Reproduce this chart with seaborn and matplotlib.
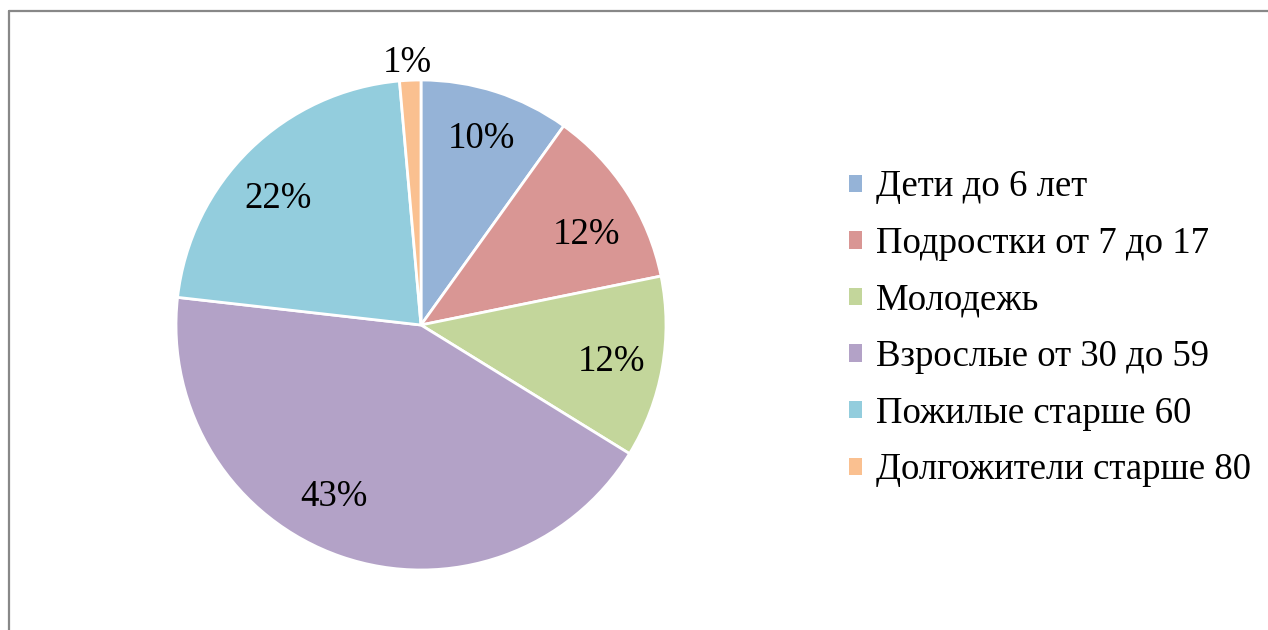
import matplotlib
matplotlib.use("Agg")
import numpy as np
import matplotlib.pyplot as plt
import seaborn as sns
from matplotlib.patches import Patch
from matplotlib.lines import Line2D

categories = ["Дети до 6 лет", "Подростки от 7 до 17", "Молодежь",
              "Взрослые от 30 до 59", "Пожилые старше 60", "Долгожители старше 80"]
values = [9.9, 11.9, 12.0, 43.0, 21.8, 1.4]
pct_labels = ["10%", "12%", "12%", "43%", "22%", "1%"]
colors_hex = ["#95B3D7", "#D99694", "#C3D69B", "#B3A2C7", "#93CDDD", "#FAC090"]

# label placement (radius fraction, angle in degrees) – styling only
label_polar = [(0.80, 72.0), (0.77, 28.5), (0.79, -10.8),
               (0.785, -117.0), (0.78, 138.5), (1.07, 93.0)]

sns.set_theme(style="white")
plt.rcParams["font.family"] = ["Liberation Serif", "DejaVu Serif"]
palette = sns.color_palette(colors_hex)

W, H = 1268, 630
fig = plt.figure(figsize=(W / 100, H / 100), dpi=100)
fig.patch.set_facecolor("white")

cx, cy, R = 421, 325, 245
half = 300
ax = fig.add_axes([(cx - half) / W, (H - cy - half) / H, 2 * half / W, 2 * half / H])
wedges, texts = ax.pie(values, colors=palette, startangle=90, counterclock=False,
                       radius=1.0, labels=pct_labels, labeldistance=0.79,
                       wedgeprops=dict(edgecolor="white", linewidth=2),
                       textprops=dict(fontsize=26.5, color="black"))
for t, (r, a) in zip(texts, label_polar):
    t.set_ha("center")
    t.set_va("center")
    t.set_position((r * np.cos(np.radians(a)), r * np.sin(np.radians(a))))
ax.set_xlim(-half / R, half / R)
ax.set_ylim(-half / R, half / R)
ax.set_aspect("auto")
ax.axis("off")

handles = [Patch(facecolor=c, edgecolor="none") for c in palette]
leg = fig.legend(handles, categories, loc="upper left",
                 bbox_to_anchor=(849 / W, 1 - 170 / H), frameon=False,
                 fontsize=26.5, handlelength=0.35, handleheight=0.35,
                 handletextpad=0.38, labelspacing=0.6, borderpad=0,
                 borderaxespad=0)
for t in leg.get_texts():
    t.set_color("black")

# frame (left and top border of the chart area)
fig.add_artist(Line2D([8.5 / W, 8.5 / W], [0, 1 - 11 / H], transform=fig.transFigure,
                      color="#888888", linewidth=1.6))
fig.add_artist(Line2D([8.5 / W, 1], [1 - 11 / H, 1 - 11 / H], transform=fig.transFigure,
                      color="#888888", linewidth=1.6))

fig.savefig("out.png", dpi=100)
